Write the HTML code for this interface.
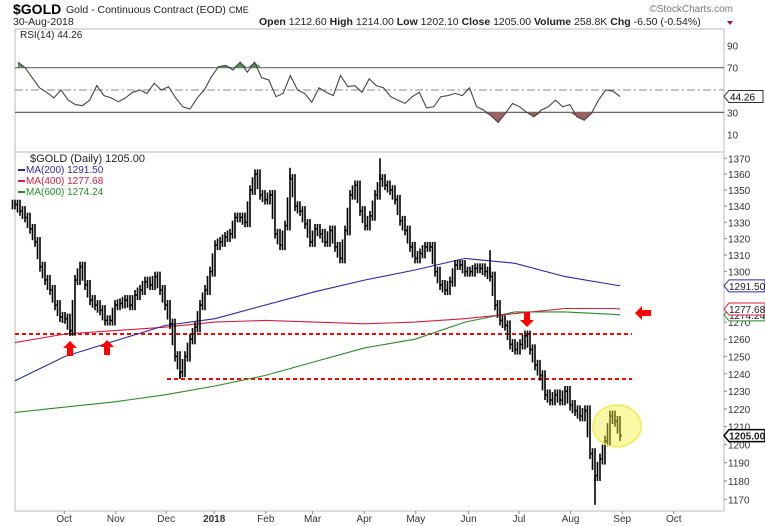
<!DOCTYPE html>
<html><head><meta charset="utf-8"><style>
body{margin:0;background:#fff;}
svg{display:block;font-family:"Liberation Sans",sans-serif;}
</style></head><body>
<svg id="c" width="765" height="526" viewBox="0 0 765 526">
<g>
<text x="13" y="14" font-size="14" font-weight="bold">$GOLD</text>
<text x="66" y="13" font-size="10.5" fill="#222">Gold - Continuous Contract (EOD) <tspan font-size="9">CME</tspan></text>
<text x="13" y="25" font-size="10.5" fill="#222">30-Aug-2018</text>
<text x="259" y="25" font-size="10.5" fill="#222"><tspan font-weight="bold">Open</tspan> 1212.60 <tspan font-weight="bold">High</tspan> 1214.00 <tspan font-weight="bold">Low</tspan> 1202.10 <tspan font-weight="bold">Close</tspan> 1205.00 <tspan font-weight="bold">Volume</tspan> 258.8K <tspan font-weight="bold">Chg</tspan> -6.50 (-0.54%)</text>
<path d="M727 21 l6 0 l-3 4z" fill="#a0103a"/>
<text x="733" y="12" font-size="10" fill="#777" text-anchor="end">©StockCharts.com</text>
</g>
<rect x="15" y="29" width="709" height="123" fill="none" stroke="#bbb"/>
<rect x="15" y="152" width="709" height="359" fill="none" stroke="#bbb"/>
<g id="rsiG"></g>
<g id="priceG"></g>
<g id="axes"></g>
</svg>
<script>
const NS="http://www.w3.org/2000/svg";
const closes=[1341,1337,1333,1326,1318,1303,1295,1289,1280,1273,1272,1265,1295,1303,1292,1283,1280,1277,1271,1271,1280,1281,1283,1280,1286,1289,1294,1292,1297,1289,1280,1269,1250,1241,1250,1260,1267,1280,1289,1300,1316,1318,1321,1323,1333,1333,1330,1350,1360,1347,1344,1347,1323,1316,1328,1357,1340,1337,1329,1318,1326,1323,1318,1325,1315,1308,1325,1347,1353,1337,1328,1334,1347,1357,1353,1350,1344,1331,1325,1315,1308,1311,1315,1315,1300,1292,1289,1294,1304,1304,1300,1300,1302,1302,1300,1297,1280,1271,1268,1257,1254,1257,1262,1254,1245,1239,1228,1225,1228,1225,1230,1222,1219,1216,1219,1195,1183,1192,1202,1216,1213,1205];
const spikeIdx=[11,33,73,116,55,95];
const spikeVal=[1262,1237,1370,1167,1364,1313];
const maIdx=[0,10,20,30,40,50,60,70,80,90,100,110,120,121];
const ma200=[1236,1250,1259,1268,1272,1280,1288,1295,1301,1308,1305,1297,1292,1291.5];
const ma400=[1258,1263,1265,1267,1270,1271,1270,1269,1270,1272,1275,1278,1278,1277.68];
const ma600=[1218,1221,1224,1228,1233,1239,1247,1255,1260,1270,1276,1276,1274.5,1274.24];
const rsi=[75,70,61,52,48,43,50,41,37,36,41,54,45,43,39.5,43,48,50,47,56,50,53,43,35,33,43,50,62,71,72,68,75,66,75,61,59,44,47,63,50,47,39,52,48,45,63,53,54,48,60,54,52,44,41,38,44,48,34,35,44,45,47,45,52,35,32,27,21,29,38,35,30,26,32,35,41,35,37,26,23,29,41,50,49,44.26];
const priceTicks=[1170,1180,1190,1200,1210,1220,1230,1240,1250,1260,1270,1280,1290,1300,1310,1320,1330,1340,1350,1360,1370];
const rsiTicks=[10,30,50,70,90];
const months=["Oct","Nov","Dec","2018","Feb","Mar","Apr","May","Jun","Jul","Aug","Sep","Oct"];
const monthDay=[20.5,42,63,83,104.5,124,145.5,167,189,210,231.5,253,274.5];
const supportLevels=[1263,1237];

const X0=15,DX=5;
const xi=i=>X0+i*DX;
const xd=d=>15+d*2.4;
const yp=p=>158.3+2161*(Math.log(1370)-Math.log(p));
const yr=r=>67.7+(70-r)*1.117;
const rx=i=>18+i*(620-18)/(rsi.length-1);

function el(t,a,p){const e=document.createElementNS(NS,t);for(const k in a)e.setAttribute(k,a[k]);(p||document.getElementById('c')).appendChild(e);return e;}
const rg=document.getElementById('rsiG'),pg=document.getElementById('priceG'),ag=document.getElementById('axes');

let l70=el('line',{x1:15,x2:724,y1:yr(70),y2:yr(70),stroke:'#666','stroke-width':1.2},rg);


let l30=el('line',{x1:15,x2:724,y1:yr(30),y2:yr(30),stroke:'#666','stroke-width':1.2},rg);


let l50=el('line',{x1:15,x2:724,y1:yr(50),y2:yr(50),stroke:'#888','stroke-dasharray':'8 3 2 3'},rg);


let up='',dn='';
for(let i=0;i<rsi.length;i++){
  up+=(i?'L':'M')+rx(i)+' '+yr(Math.max(rsi[i],70));
  dn+=(i?'L':'M')+rx(i)+' '+yr(Math.min(rsi[i],30));
}
up+='L'+rx(rsi.length-1)+' '+yr(70)+'L'+rx(0)+' '+yr(70)+'Z';
dn+='L'+rx(rsi.length-1)+' '+yr(30)+'L'+rx(0)+' '+yr(30)+'Z';
let fu=el('path',{d:up,fill:'#5f8f5f'},rg);


let fd=el('path',{d:dn,fill:'#a06060'},rg);


let rp='';rsi.forEach((v,i)=>rp+=(i?'L':'M')+rx(i).toFixed(1)+' '+yr(v).toFixed(1));
let rl=el('path',{d:rp,fill:'none',stroke:'#444','stroke-width':1.1},rg);


rsiTicks.forEach(t=>{if(t===50)return;const tx=el('text',{x:727,y:yr(t)+4,'font-size':10,fill:'#333'},ag);tx.textContent=t;

});
let rt=el('text',{x:20,y:38,'font-size':10,fill:'#222'},rg);rt.textContent='RSI(14) 44.26';


let rtag=el('path',{d:`M724 ${yr(44.26)} l5 -6 h34 v12 h-34z`,fill:'#fff',stroke:'#333'},ag);


let rtt=el('text',{x:730,y:yr(44.26)+4,'font-size':10},ag);rtt.textContent='44.26';



supportLevels.forEach((lv,k)=>{const s=el('line',{x1:k?167:15,x2:632,y1:yp(lv),y2:yp(lv),stroke:'#f00','stroke-width':2,'stroke-dasharray':'4 3'},pg);

});

function maPath(arr){let d='';arr.forEach((v,k)=>d+=(k?'L':'M')+xi(maIdx[k])+' '+yp(v).toFixed(1));return d;}
[[ma600,'#2a8a2a','ma600-line'],[ma400,'#d02040','ma400-line'],[ma200,'#2a2aa0','ma200-line']].forEach(m=>{
 const p=el('path',{d:maPath(m[0]),fill:'none',stroke:m[1],'stroke-width':1.1},pg);
 
 
});

closes.forEach((c,i)=>{
  const prev=i?closes[i-1]:c;
  const hi=Math.max(prev,c)+3,lo=Math.min(prev,c)-3;
  const x=xi(i);
  const b=el('line',{x1:x,x2:x,y1:yp(hi),y2:yp(lo),stroke:'#000','stroke-width':1.6},pg);
  
  
  const mid=(prev+c)/2;
  const b2=el('line',{x1:x-2.5,x2:x-2.5,y1:yp(Math.max(mid,prev)+3),y2:yp(Math.min(mid,prev)-3),stroke:'#000','stroke-width':1.6},pg);
  
  
  const t=el('line',{x1:x,x2:x+2,y1:yp(c),y2:yp(c),stroke:'#000','stroke-width':1.5},pg);
  
  
});
spikeIdx.forEach((ix,k)=>{
  const x=xi(ix);
  const s=el('line',{x1:x,x2:x,y1:yp(closes[ix]),y2:yp(spikeVal[k]),stroke:'#000','stroke-width':1.6},pg);
  
  
});

priceTicks.forEach(t=>{if(t===1280||t===1290)return;const y=yp(t);
 const tk=el('line',{x1:724,x2:727,y1:y,y2:y,stroke:'#888'},ag);
 
 
 const tx=el('text',{x:728,y:y+4,'font-size':10,fill:'#333'},ag);tx.textContent=t;
 
 });
months.forEach((m,k)=>{const tx=el('text',{x:xd(monthDay[k]),y:522,'font-size':10,fill:'#333','text-anchor':'middle','font-weight':m==='2018'?'bold':'normal'},ag);tx.textContent=m;
 
 
 const tk=el('line',{x1:xd(monthDay[k]),x2:xd(monthDay[k]),y1:511,y2:514,stroke:'#888'},ag);
 
 });

[[1291.5,'1291.50','#2a2aa0'],[1274.24,'1274.24','#2a8a2a'],[1277.68,'1277.68','#d02040'],[1205,'1205.00','#000']].forEach(v=>{
 const y=yp(v[0]);
 const g=el('path',{d:`M724 ${y} l5 -6 h36 v12 h-36z`,fill:'#fff',stroke:v[2],'stroke-width':v[2]==='#000'?1.5:1},ag);
 
 
 const t=el('text',{x:729,y:y+4,'font-size':10,fill:'#222','font-weight':v[2]==='#000'?'bold':'normal'},ag);t.textContent=v[1];
 
 
});

[['$GOLD (Daily) 1205.00','#222',162],['MA(200) 1291.50','#2a2aa0',173],['MA(400) 1277.68','#d02040',184],['MA(600) 1274.24','#2a8a2a',195]].forEach((l,k)=>{
 const t=el('text',{x:k?26:30,y:l[2],'font-size':k?10:11,fill:l[1]},pg);t.textContent=l[0];
 
 
 if(k){const s=el('line',{x1:18,x2:25,y1:l[2]-3,y2:l[2]-3,stroke:l[1],'stroke-width':2},pg);
 
 }
});

const hc=el('ellipse',{cx:617,cy:426,rx:24,ry:21,fill:'rgba(240,240,60,0.45)',stroke:'#eeee50','stroke-width':1.5},pg);


function arrow(x,y,dir,name){
 let d;
 if(dir==='up')d=`M${x} ${y-8} l7 7 h-4 v8 h-6 v-8 h-4z`;
 if(dir==='down')d=`M${x} ${y+8} l7 -7 h-4 v-8 h-6 v8 h-4z`;
 if(dir==='left')d=`M${x-8} ${y} l7 -7 v4 h9 v6 h-9 v4z`;
 const a=el('path',{d:d,fill:'#f00'},pg);
 
 
}
arrow(70,349,'up','support-arrow-oct');
arrow(107,348,'up','support-arrow-nov');
arrow(527,319,'down','resistance-arrow-jul');
arrow(643,313,'left','ma-cluster-arrow');
</script>
</body></html>
